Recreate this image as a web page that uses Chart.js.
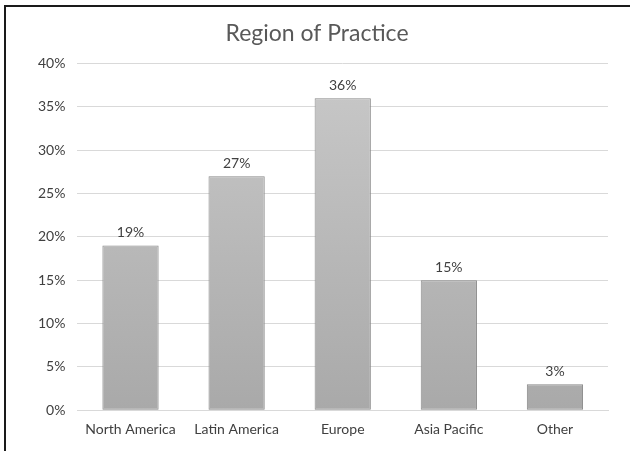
<!DOCTYPE html>
<html>
<head>
<meta charset="utf-8">
<script src="https://cdn.jsdelivr.net/npm/chart.js@4"></script>
<style>
  html, body { margin: 0; padding: 0; background: #fff; }
  #frame {
    position: absolute; left: 4px; top: 5px; width: 626px; height: 446px;
    border-left: 2px solid #1a1a1a; border-top: 2px solid #1a1a1a;
    box-sizing: border-box;
  }
  #wrap { position: absolute; left: 0; top: 0; width: 630px; height: 451px; }
</style>
</head>
<body>
<div id="frame"></div>
<div id="wrap"><canvas id="chart"></canvas></div>
<script>
const regions = ['North America', 'Latin America', 'Europe', 'Asia Pacific', 'Other'];
const shares = [19, 27, 36, 15, 3];
const yTicks = [0, 5, 10, 15, 20, 25, 30, 35, 40];

const FONT = 'Lato, "Open Sans", sans-serif';

// small plugin to print the value above each bar
const valueLabels = {
  id: 'valueLabels',
  afterDatasetsDraw(chart) {
    const ctx = chart.ctx;
    const meta = chart.getDatasetMeta(0);
    ctx.save();
    ctx.font = '14px ' + FONT;
    ctx.fillStyle = '#404040';
    ctx.textAlign = 'center';
    ctx.textBaseline = 'bottom';
    meta.data.forEach((bar, i) => {
      ctx.fillText(shares[i] + '%', bar.x, bar.y - 6);
    });
    ctx.restore();
  }
};

function barGradient(context) {
  const area = context.chart.chartArea;
  if (!area) return '#b8b8b8';
  const g = context.chart.ctx.createLinearGradient(0, area.top, 0, area.bottom);
  g.addColorStop(0, '#c9c9c9');
  g.addColorStop(1, '#a9a9a9');
  return g;
}

new Chart(document.getElementById('chart'), {
  type: 'bar',
  data: {
    labels: regions,
    datasets: [{
      data: shares,
      backgroundColor: barGradient,
      borderColor: '#888888',
      borderWidth: 1,
      borderSkipped: false,
      categoryPercentage: 1,
      barPercentage: 0.53
    }]
  },
  options: {
    responsive: true,
    maintainAspectRatio: false,
    animation: false,
    layout: { padding: { left: 26, right: 22, top: 10, bottom: 10 } },
    plugins: {
      legend: { display: false },
      tooltip: { enabled: false },
      title: {
        display: true,
        text: 'Region of Practice',
        color: '#595959',
        font: { family: FONT, size: 23, weight: 'normal' },
        padding: { top: 10, bottom: 16 }
      }
    },
    scales: {
      x: {
        grid: { display: false },
        border: { color: '#d9d9d9' },
        ticks: { color: '#404040', font: { family: FONT, size: 14 }, padding: 3 }
      },
      y: {
        min: 0,
        max: 40,
        afterBuildTicks(axis) { axis.ticks = yTicks.map(v => ({ value: v })); },
        grid: { color: '#d9d9d9', drawTicks: false },
        border: { display: false },
        ticks: {
          color: '#404040',
          font: { family: FONT, size: 14 },
          padding: 12,
          callback: v => v + '%'
        }
      }
    }
  },
  plugins: [valueLabels]
});
</script>
</body>
</html>
